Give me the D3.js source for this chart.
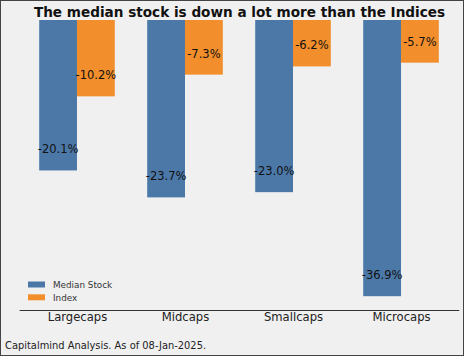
<!DOCTYPE html>
<html><head><meta charset="utf-8">
<script src="https://cdn.jsdelivr.net/npm/d3@7"></script>
<style>html,body{margin:0;padding:0;background:#f0f0f0;}svg{display:block;}</style>
</head><body>
<script>
const categories = ["Largecaps", "Midcaps", "Smallcaps", "Microcaps"];
const medianStock = [-20.1, -23.7, -23.0, -36.9];
const indexValues = [-10.2, -7.3, -6.2, -5.7];
const seriesNames = ["Median Stock", "Index"];
const colors = ["#4c78a8", "#f28e2b"];
const title = "The median stock is down a lot more than the Indices";
const footer = "Capitalmind Analysis. As of 08-Jan-2025.";
const labelOffset = 2.8;

const W = 464, H = 356;
const svg = d3.select("body").append("svg").attr("width", W).attr("height", H);
svg.append("rect").attr("x", 0.5).attr("y", 0.5).attr("width", W - 1).attr("height", H - 1)
  .attr("fill", "#f0f0f0").attr("stroke", "#444").attr("stroke-width", 1);

const barW = 0.35;
const x = d3.scaleLinear().domain([-0.535, 3.535]).range([19.2, 458.8]);
const minV = d3.min(medianStock.concat(indexValues));
const y = d3.scaleLinear().domain([minV * 1.05, 0]).range([310, 20]);

const font = "DejaVu Sans, sans-serif";
const series = [medianStock, indexValues];

series.forEach((vals, s) => {
  const off = s === 0 ? -barW : 0;
  svg.append("g").selectAll("rect").data(vals).join("rect")
    .attr("x", (d, i) => x(i + off))
    .attr("width", (d, i) => x(i + off + barW) - x(i + off))
    .attr("y", y(0))
    .attr("height", d => y(d) - y(0))
    .attr("fill", colors[s]);
  svg.append("g").selectAll("text").data(vals).join("text")
    .attr("x", (d, i) => x(i + off + barW / 2))
    .attr("y", d => y(d + labelOffset))
    .attr("text-anchor", "middle").attr("dominant-baseline", "central")
    .attr("font-family", font).attr("font-size", "11.5px").attr("fill", "#111")
    .text(d => d.toFixed(1) + "%");
});

// x axis
const xAxis = d3.axisBottom(x).tickValues(d3.range(categories.length))
  .tickFormat(i => categories[i]).tickSize(0).tickPadding(3);
const gx = svg.append("g").attr("transform", `translate(0,${y.range()[0]})`).call(xAxis);
gx.select(".domain").attr("stroke", "#333").attr("stroke-width", 1);
gx.selectAll("text").attr("font-family", font).attr("font-size", "11.6px").attr("fill", "#222");

// title
svg.append("text").attr("x", 239.5).attr("y", 12).attr("text-anchor", "middle")
  .attr("dominant-baseline", "central").attr("font-family", font)
  .attr("font-weight", "bold").attr("font-size", "13.6px").attr("fill", "#111").text(title);

// legend
const lg = svg.append("g");
seriesNames.forEach((n, i) => {
  lg.append("rect").attr("x", 28).attr("y", 281.5 + i * 12.8).attr("width", 17).attr("height", 6)
    .attr("fill", colors[i]);
  lg.append("text").attr("x", 53).attr("y", 284.7 + i * 12.8).attr("dominant-baseline", "central")
    .attr("font-family", font).attr("font-size", "8.8px").attr("fill", "#333").text(n);
});

// footer
svg.append("text").attr("x", 5).attr("y", 345).attr("dominant-baseline", "central")
  .attr("font-family", font).attr("font-size", "9.9px").attr("fill", "#222").text(footer);
</script>
</body></html>
